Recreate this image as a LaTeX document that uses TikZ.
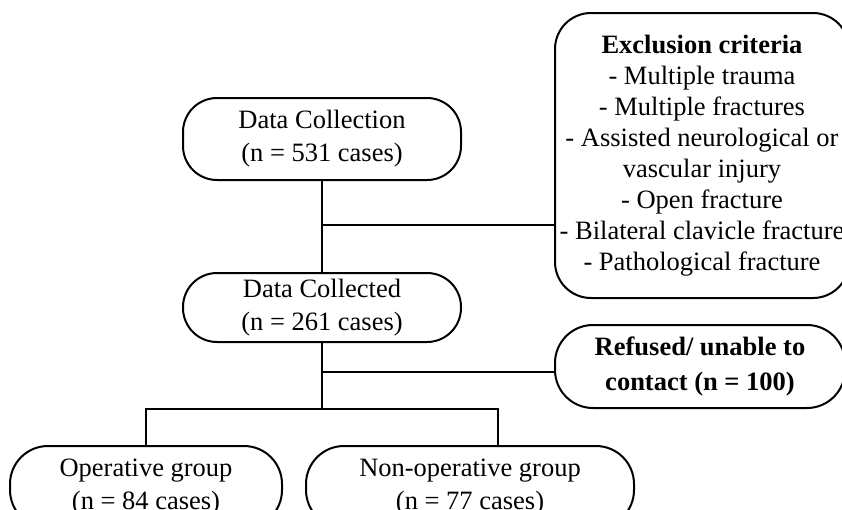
\documentclass[tikz,border=0pt]{standalone}
\usepackage{fontspec}
\setmainfont{Liberation Serif}
\begin{document}
\begin{tikzpicture}[x=1pt,y=1pt,
  box/.style={draw, line width=2pt, rounded corners=34pt, align=center, inner sep=0pt,
    font=\fontsize{26.5pt}{33pt}\selectfont},
  conn/.style={line width=2pt}]
\clip (0,0) rectangle (842,-509);
\node[box, minimum width=278pt, minimum height=82pt] (dc) at (322,-139) {Data Collection\\(n = 531 cases)};
\node[box, minimum width=278pt, minimum height=69pt] (dcd) at (322,-307.5) {Data Collected\\(n = 261 cases)};
\node[box, rounded corners=36pt, minimum width=294pt, minimum height=285pt,
  font=\fontsize{26.5pt}{31pt}\selectfont] (excl) at (702,-155.5)
  {\textbf{Exclusion criteria}\\- Multiple trauma\\- Multiple fractures\\- Assisted neurological or\\vascular injury\\- Open fracture\\- Bilateral clavicle fracture\\- Pathological fracture};
\node[box, rounded corners=38pt, minimum width=290pt, minimum height=83pt,
  font=\bfseries\fontsize{26.5pt}{35pt}\selectfont] (ref) at (700,-366.5) {\raisebox{3pt}{Refused/ unable to}\\\raisebox{3pt}{contact (n = 100)}};
\node[box, rounded corners=38pt, minimum width=272pt, minimum height=82pt] (op) at (146,-487) {Operative group\\(n = 84 cases)};
\node[box, rounded corners=38pt, minimum width=328pt, minimum height=82pt] (nop) at (470,-487) {Non-operative group\\(n = 77 cases)};
\coordinate (j1) at (322,-225);
\coordinate (j3) at (322,-372);
\coordinate (j2) at (322,-409);
\coordinate (jR) at (498,-409);
\draw[conn] (dc.south) -- (dcd.north);
\draw[conn] (j1) -- (j1 -| excl.west);
\draw[conn] (dcd.south) -- (j2);
\draw[conn] (j3) -- (j3 -| ref.west);
\draw[conn] (op.north) |- (jR) -- (jR |- nop.north);
\end{tikzpicture}
\end{document}
